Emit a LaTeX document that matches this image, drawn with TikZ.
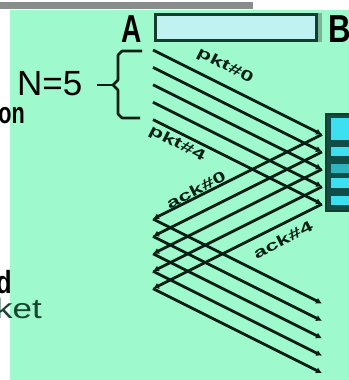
\documentclass[tikz,border=0pt]{standalone}
\usepackage{fontspec}
\setmainfont{Liberation Sans}
\usetikzlibrary{arrows.meta}
\definecolor{bggreen}{RGB}{158,250,204}
\definecolor{bargray}{RGB}{136,140,138}
\definecolor{chanfill}{RGB}{192,242,242}
\definecolor{chanedge}{RGB}{22,60,48}
\definecolor{bufdark}{RGB}{16,76,72}
\definecolor{bufcyan}{RGB}{60,224,240}
\definecolor{ketgreen}{RGB}{24,70,50}
\definecolor{shadegreen}{RGB}{120,180,150}
\definecolor{inkdark}{RGB}{8,30,20}
\tikzset{
  msg/.style={line width=2.8bp, inkdark, -{Latex[length=6bp,width=6.5bp]}},
  lbl/.style={font=\bfseries\fontsize{15bp}{17bp}\selectfont, inner sep=0pt, text=inkdark},
  big/.style={font=\bfseries\fontsize{39bp}{42bp}\selectfont, inner sep=0pt, black},
  side/.style={inner sep=0pt, black}
}
\begin{document}
\begin{tikzpicture}[x=1bp,y=-1bp]
\path[use as bounding box] (0,0) rectangle (349,380);
\fill[white] (0,0) rectangle (349,380);
\fill[bargray] (0,2) rectangle (253,9);
\fill[bggreen] (10,10) rectangle (349,380);

% channel
\fill[shadegreen] (318,13) rectangle (322,42);
\node[draw=chanedge, line width=3bp, fill=chanfill, minimum width=161bp,
      minimum height=26bp, inner sep=0pt, outer sep=0pt] (chan) at (236,27.5) {};
\node[big, anchor=base] (A) at (132,42) {\scalebox{0.72}[1]{A}};
\node[big, anchor=base west] (B) at (328,42) {\scalebox{0.8}[1]{B}};

% N=5 and brace
\node[side, anchor=base west, font=\fontsize{35bp}{38bp}\selectfont] (N) at (17,95) {N=5};
\coordinate (dashL) at (97,85);
\coordinate (braceTip) at (113,85);
\draw[line width=2.8bp, inkdark] (dashL) -- (braceTip);
\draw[line width=2.6bp, inkdark, line join=round]
  (142,51) -- (122,51) -- (118,55) -- (118,80) -- (braceTip) -- (118,90)
  -- (118,114) -- (122,118) -- (140,118);

% left partial texts
\node[side, anchor=base east, font=\bfseries\fontsize{30bp}{32bp}\selectfont] (on) at (25,123) {\scalebox{0.72}[1]{on}};
\node[side, anchor=base east, font=\bfseries\fontsize{32bp}{34bp}\selectfont] (d) at (12,293) {\scalebox{0.8}[1]{d}};
\node[side, anchor=base west, text=ketgreen, font=\fontsize{28bp}{30bp}\selectfont] (ket) at (-5,318) {\scalebox{1.25}[1]{ket}};

% message coordinates and lines
\foreach \i in {0,...,4}{
  \pgfmathsetmacro{\yy}{50+17.4*\i}
  \coordinate (p\i) at (153,\yy);
  \coordinate (q\i) at (322,\yy+84.5);
  \coordinate (r\i) at (153,\yy+169);
  \coordinate (s\i) at (322,\yy+253.5);
}
\foreach \i in {0,...,4}{
  \draw[msg] (p\i) -- (q\i);
  \draw[msg] (q\i) -- (r\i);
  \draw[msg] (r\i) -- (s\i);
}

% labels
\node[lbl, rotate=-27] (l0) at (225,66) {\scalebox{1.55}[1]{pkt\#0}};
\node[lbl, rotate=-27] (l4) at (177,144) {\scalebox{1.55}[1]{pkt\#4}};
\node[lbl, rotate=27] (a0) at (196,190) {\scalebox{1.55}[1]{ack\#0}};
\node[lbl, rotate=27] (a4) at (283,240) {\scalebox{1.55}[1]{ack\#4}};

% receiver buffer (partly visible)
\node[fill=bufdark, draw=chanedge, line width=1.5bp, minimum width=28bp,
      minimum height=97bp, inner sep=0pt, anchor=north west] (buf) at (325,113) {};
\fill[bufcyan] (331,118) rectangle (351,140);
\fill[bufcyan] (331,147) rectangle (351,156);
\fill[bufcyan!70!bufdark] (331,164) rectangle (351,173);
\fill[bufcyan] (331,178) rectangle (351,188);
\fill[bufcyan] (331,196) rectangle (351,205);
\end{tikzpicture}
\end{document}
